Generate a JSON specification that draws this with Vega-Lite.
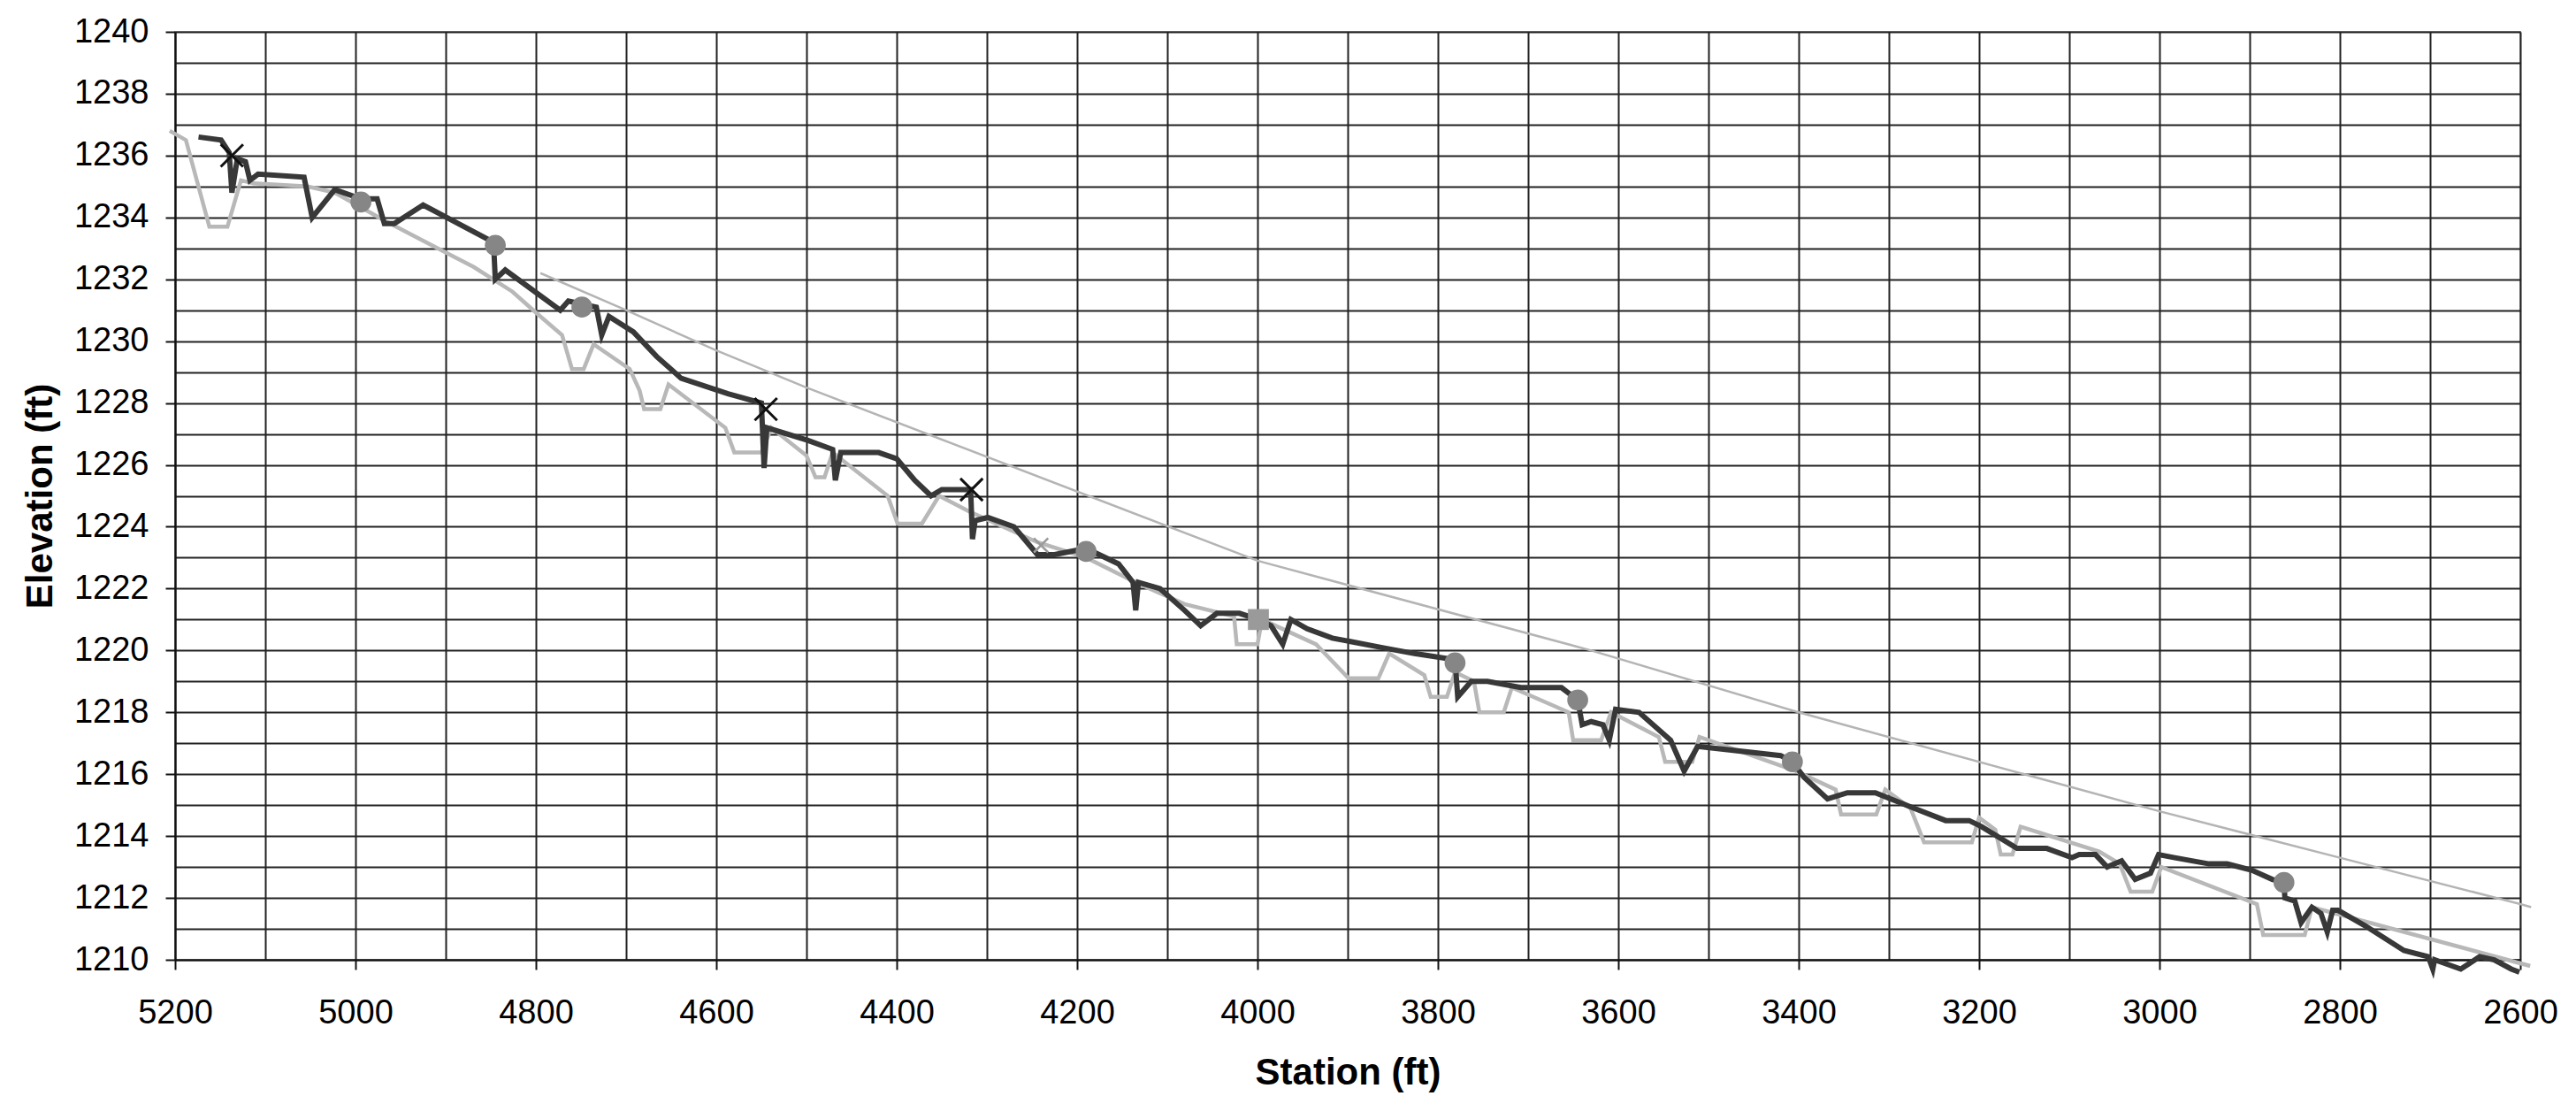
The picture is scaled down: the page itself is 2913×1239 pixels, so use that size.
{
  "$schema": "https://vega.github.io/schema/vega-lite/v6.json",
  "width": 2652,
  "height": 1049,
  "autosize": {"type": "none"},
  "padding": {"left": 198, "top": 36, "right": 63, "bottom": 154},
  "background": "white",
  "config": {
    "view": {"stroke": "#a0a0a0", "strokeWidth": 2},
    "font": "Liberation Sans"
  },
  "datasets": {
    "dark": [
      {"station": 5174, "elev": 1236.6}, {"station": 5149, "elev": 1236.5}, {"station": 5140, "elev": 1236.1},
      {"station": 5137, "elev": 1234.8}, {"station": 5131, "elev": 1235.9}, {"station": 5122, "elev": 1235.8},
      {"station": 5117, "elev": 1235.2}, {"station": 5108, "elev": 1235.4}, {"station": 5057, "elev": 1235.3},
      {"station": 5048, "elev": 1234.0}, {"station": 5023, "elev": 1234.9}, {"station": 4994, "elev": 1234.6},
      {"station": 4976, "elev": 1234.6}, {"station": 4968, "elev": 1233.8}, {"station": 4957, "elev": 1233.8},
      {"station": 4925, "elev": 1234.4}, {"station": 4847, "elev": 1233.2}, {"station": 4845, "elev": 1232.0},
      {"station": 4834, "elev": 1232.3}, {"station": 4773, "elev": 1231.0}, {"station": 4764, "elev": 1231.3},
      {"station": 4749, "elev": 1231.2}, {"station": 4733, "elev": 1231.1}, {"station": 4727, "elev": 1230.2},
      {"station": 4719, "elev": 1230.8}, {"station": 4692, "elev": 1230.3}, {"station": 4666, "elev": 1229.5},
      {"station": 4639, "elev": 1228.8}, {"station": 4587, "elev": 1228.3}, {"station": 4550, "elev": 1228.0},
      {"station": 4547, "elev": 1225.9}, {"station": 4544, "elev": 1227.2}, {"station": 4499, "elev": 1226.8},
      {"station": 4471, "elev": 1226.5}, {"station": 4468, "elev": 1225.5}, {"station": 4462, "elev": 1226.4},
      {"station": 4420, "elev": 1226.4}, {"station": 4400, "elev": 1226.2}, {"station": 4380, "elev": 1225.5},
      {"station": 4362, "elev": 1225.0}, {"station": 4350, "elev": 1225.2}, {"station": 4318, "elev": 1225.2},
      {"station": 4316, "elev": 1223.6}, {"station": 4313, "elev": 1224.2}, {"station": 4299, "elev": 1224.3},
      {"station": 4270, "elev": 1224.0}, {"station": 4244, "elev": 1223.1}, {"station": 4225, "elev": 1223.1},
      {"station": 4190, "elev": 1223.3}, {"station": 4154, "elev": 1222.8}, {"station": 4138, "elev": 1222.2},
      {"station": 4135, "elev": 1221.3}, {"station": 4132, "elev": 1222.2}, {"station": 4108, "elev": 1222.0},
      {"station": 4081, "elev": 1221.3}, {"station": 4063, "elev": 1220.8}, {"station": 4045, "elev": 1221.2},
      {"station": 4020, "elev": 1221.2}, {"station": 3999, "elev": 1221.0}, {"station": 3985, "elev": 1220.8},
      {"station": 3972, "elev": 1220.2}, {"station": 3963, "elev": 1221.0}, {"station": 3945, "elev": 1220.7},
      {"station": 3917, "elev": 1220.4}, {"station": 3863, "elev": 1220.1}, {"station": 3826, "elev": 1219.9},
      {"station": 3781, "elev": 1219.7}, {"station": 3778, "elev": 1218.5}, {"station": 3763, "elev": 1219.0},
      {"station": 3745, "elev": 1219.0}, {"station": 3708, "elev": 1218.8}, {"station": 3663, "elev": 1218.8},
      {"station": 3645, "elev": 1218.4}, {"station": 3640, "elev": 1217.6}, {"station": 3630, "elev": 1217.7},
      {"station": 3617, "elev": 1217.6}, {"station": 3610, "elev": 1217.1}, {"station": 3603, "elev": 1218.1},
      {"station": 3577, "elev": 1218.0}, {"station": 3542, "elev": 1217.1}, {"station": 3527, "elev": 1216.1},
      {"station": 3512, "elev": 1216.9}, {"station": 3420, "elev": 1216.6}, {"station": 3407, "elev": 1216.4},
      {"station": 3394, "elev": 1215.9}, {"station": 3368, "elev": 1215.2}, {"station": 3346, "elev": 1215.4},
      {"station": 3315, "elev": 1215.4}, {"station": 3272, "elev": 1214.9}, {"station": 3237, "elev": 1214.5},
      {"station": 3211, "elev": 1214.5}, {"station": 3197, "elev": 1214.3}, {"station": 3158, "elev": 1213.6},
      {"station": 3125, "elev": 1213.6}, {"station": 3097, "elev": 1213.3}, {"station": 3089, "elev": 1213.4},
      {"station": 3071, "elev": 1213.4}, {"station": 3058, "elev": 1213.0}, {"station": 3042, "elev": 1213.2},
      {"station": 3027, "elev": 1212.6}, {"station": 3010, "elev": 1212.8}, {"station": 3001, "elev": 1213.4},
      {"station": 2983, "elev": 1213.3}, {"station": 2945, "elev": 1213.1}, {"station": 2925, "elev": 1213.1},
      {"station": 2898, "elev": 1212.9}, {"station": 2875, "elev": 1212.6}, {"station": 2862, "elev": 1212.5},
      {"station": 2861, "elev": 1212.0}, {"station": 2850, "elev": 1211.9}, {"station": 2843, "elev": 1211.2},
      {"station": 2831, "elev": 1211.7}, {"station": 2821, "elev": 1211.5}, {"station": 2814, "elev": 1210.9},
      {"station": 2808, "elev": 1211.6}, {"station": 2802, "elev": 1211.6}, {"station": 2772, "elev": 1211.1},
      {"station": 2729, "elev": 1210.3}, {"station": 2702, "elev": 1210.1}, {"station": 2697, "elev": 1209.7},
      {"station": 2695, "elev": 1210.0}, {"station": 2666, "elev": 1209.7}, {"station": 2645, "elev": 1210.1},
      {"station": 2629, "elev": 1210.0}, {"station": 2610, "elev": 1209.7}, {"station": 2601, "elev": 1209.6}
    ],
    "grey": [
      {"station": 5206, "elev": 1236.8}, {"station": 5188, "elev": 1236.5}, {"station": 5162, "elev": 1233.7},
      {"station": 5142, "elev": 1233.7}, {"station": 5127, "elev": 1235.2}, {"station": 5113, "elev": 1235.1},
      {"station": 5053, "elev": 1235.0}, {"station": 5023, "elev": 1234.8}, {"station": 4968, "elev": 1233.9},
      {"station": 4922, "elev": 1233.2}, {"station": 4869, "elev": 1232.4}, {"station": 4826, "elev": 1231.6},
      {"station": 4799, "elev": 1230.9}, {"station": 4771, "elev": 1230.2}, {"station": 4760, "elev": 1229.1},
      {"station": 4747, "elev": 1229.1}, {"station": 4736, "elev": 1229.9}, {"station": 4696, "elev": 1229.1},
      {"station": 4685, "elev": 1228.4}, {"station": 4680, "elev": 1227.8}, {"station": 4662, "elev": 1227.8},
      {"station": 4653, "elev": 1228.6}, {"station": 4590, "elev": 1227.2}, {"station": 4580, "elev": 1226.4},
      {"station": 4550, "elev": 1226.4}, {"station": 4539, "elev": 1227.2}, {"station": 4500, "elev": 1226.3},
      {"station": 4490, "elev": 1225.6}, {"station": 4480, "elev": 1225.6}, {"station": 4471, "elev": 1226.4},
      {"station": 4410, "elev": 1225.0}, {"station": 4399, "elev": 1224.1}, {"station": 4372, "elev": 1224.1},
      {"station": 4353, "elev": 1225.0}, {"station": 4320, "elev": 1224.5}, {"station": 4244, "elev": 1223.5},
      {"station": 4190, "elev": 1223.0}, {"station": 4135, "elev": 1222.2}, {"station": 4081, "elev": 1221.5},
      {"station": 4026, "elev": 1221.1}, {"station": 4023, "elev": 1220.2}, {"station": 4000, "elev": 1220.2},
      {"station": 3995, "elev": 1221.0}, {"station": 3935, "elev": 1220.2}, {"station": 3899, "elev": 1219.1},
      {"station": 3866, "elev": 1219.1}, {"station": 3854, "elev": 1219.9}, {"station": 3815, "elev": 1219.2},
      {"station": 3808, "elev": 1218.5}, {"station": 3790, "elev": 1218.5}, {"station": 3781, "elev": 1219.3},
      {"station": 3760, "elev": 1219.0}, {"station": 3754, "elev": 1218.0}, {"station": 3727, "elev": 1218.0},
      {"station": 3718, "elev": 1218.8}, {"station": 3655, "elev": 1218.0}, {"station": 3650, "elev": 1217.1},
      {"station": 3619, "elev": 1217.1}, {"station": 3608, "elev": 1218.0}, {"station": 3555, "elev": 1217.2},
      {"station": 3548, "elev": 1216.4}, {"station": 3518, "elev": 1216.4}, {"station": 3510, "elev": 1217.2},
      {"station": 3403, "elev": 1216.1}, {"station": 3359, "elev": 1215.5}, {"station": 3353, "elev": 1214.7},
      {"station": 3314, "elev": 1214.7}, {"station": 3304, "elev": 1215.5}, {"station": 3276, "elev": 1214.9},
      {"station": 3261, "elev": 1213.8}, {"station": 3208, "elev": 1213.8}, {"station": 3200, "elev": 1214.6},
      {"station": 3182, "elev": 1214.2}, {"station": 3176, "elev": 1213.4}, {"station": 3163, "elev": 1213.4},
      {"station": 3154, "elev": 1214.3}, {"station": 3067, "elev": 1213.5}, {"station": 3044, "elev": 1213.1},
      {"station": 3032, "elev": 1212.2}, {"station": 3008, "elev": 1212.2}, {"station": 2998, "elev": 1213.0},
      {"station": 2892, "elev": 1211.8}, {"station": 2885, "elev": 1210.8}, {"station": 2839, "elev": 1210.8},
      {"station": 2831, "elev": 1211.7}, {"station": 2589, "elev": 1209.8}
    ],
    "slope": [
      {"station": 4795, "elev": 1232.2}, {"station": 4700, "elev": 1231.0}, {"station": 4600, "elev": 1229.7},
      {"station": 4500, "elev": 1228.5}, {"station": 4000, "elev": 1222.9}, {"station": 3630, "elev": 1220.0},
      {"station": 3400, "elev": 1218.0}, {"station": 3000, "elev": 1214.8}, {"station": 2800, "elev": 1213.3},
      {"station": 2600, "elev": 1211.8}, {"station": 2588, "elev": 1211.7}
    ],
    "markers": [
      {"station": 5137, "elev": 1236.0, "kind": "x"},
      {"station": 4545, "elev": 1227.8, "kind": "x"},
      {"station": 4317, "elev": 1225.2, "kind": "x"},
      {"station": 4240, "elev": 1223.4, "kind": "xs"},
      {"station": 4994, "elev": 1234.5, "kind": "circle"},
      {"station": 4845, "elev": 1233.1, "kind": "circle"},
      {"station": 4749, "elev": 1231.1, "kind": "circle"},
      {"station": 4190, "elev": 1223.2, "kind": "circle"},
      {"station": 3781, "elev": 1219.6, "kind": "circle"},
      {"station": 3645, "elev": 1218.4, "kind": "circle"},
      {"station": 3407, "elev": 1216.4, "kind": "circle"},
      {"station": 2862, "elev": 1212.5, "kind": "circle"},
      {"station": 3999, "elev": 1221.0, "kind": "square"}
    ]
  },
  "encoding": {
    "x": {
      "field": "station",
      "type": "quantitative",
      "scale": {"domain": [2600, 5200], "reverse": true, "nice": false, "zero": false},
      "axis": {
        "title": "Station (ft)",
        "values": [2600, 2700, 2800, 2900, 3000, 3100, 3200, 3300, 3400, 3500, 3600, 3700, 3800, 3900, 4000, 4100, 4200, 4300, 4400, 4500, 4600, 4700, 4800, 4900, 5000, 5100, 5200],
        "labelExpr": "datum.value % 200 === 0 ? datum.label : ''",
        "format": "d",
        "grid": true,
        "gridColor": "#222222",
        "gridWidth": 2,
        "domainColor": "#111",
        "domainWidth": 2,
        "tickColor": "#111",
        "tickWidth": 2,
        "tickSize": 11,
        "tickOpacity": {"expr": "datum.value % 200 === 0 ? 1 : 0"},
        "labelFont": "Liberation Sans",
        "labelFontSize": 38,
        "labelColor": "#000",
        "labelPadding": 30,
        "labelFlush": false,
        "titleFont": "Liberation Sans",
        "titleFontSize": 42,
        "titleFontWeight": "bold",
        "titleColor": "#000",
        "titlePadding": 28
      }
    },
    "y": {
      "field": "elev",
      "type": "quantitative",
      "scale": {"domain": [1210, 1240], "nice": false, "zero": false},
      "axis": {
        "title": "Elevation (ft)",
        "values": [1210, 1211, 1212, 1213, 1214, 1215, 1216, 1217, 1218, 1219, 1220, 1221, 1222, 1223, 1224, 1225, 1226, 1227, 1228, 1229, 1230, 1231, 1232, 1233, 1234, 1235, 1236, 1237, 1238, 1239, 1240],
        "labelExpr": "datum.value % 2 === 0 ? datum.label : ''",
        "format": "d",
        "grid": true,
        "gridColor": "#222222",
        "gridWidth": 2,
        "domainColor": "#111",
        "domainWidth": 2,
        "tickColor": "#111",
        "tickWidth": 2,
        "tickSize": 11,
        "tickOpacity": {"expr": "datum.value % 2 === 0 ? 1 : 0"},
        "labelFont": "Liberation Sans",
        "labelFontSize": 38,
        "labelColor": "#000",
        "labelPadding": 19,
        "labelFlush": false,
        "titleFont": "Liberation Sans",
        "titleFontSize": 42,
        "titleFontWeight": "bold",
        "titleColor": "#000",
        "titlePadding": 16
      }
    }
  },
  "layer": [
    {"data": {"name": "slope"}, "mark": {"type": "line", "color": "#b4b4b4", "strokeWidth": 2.5}},
    {"data": {"name": "grey"}, "mark": {"type": "line", "color": "#b8b8b8", "strokeWidth": 4.5}},
    {"data": {"name": "dark"}, "mark": {"type": "line", "color": "#383838", "strokeWidth": 6}},
    {"data": {"name": "markers"}, "transform": [{"filter": "datum.kind === 'circle'"}], "mark": {"type": "circle", "size": 560, "color": "#868686", "opacity": 1}},
    {"data": {"name": "markers"}, "transform": [{"filter": "datum.kind === 'square'"}], "mark": {"type": "square", "size": 560, "color": "#9a9a9a", "opacity": 1}},
    {"data": {"name": "markers"}, "transform": [{"filter": "datum.kind === 'x'"}], "mark": {"type": "point", "shape": "M-1,-1L1,1M-1,1L1,-1", "size": 640, "filled": false, "stroke": "#111", "strokeWidth": 3, "opacity": 1}},
    {"data": {"name": "markers"}, "transform": [{"filter": "datum.kind === 'xs'"}], "mark": {"type": "point", "shape": "M-1,-1L1,1M-1,1L1,-1", "size": 260, "filled": false, "stroke": "#9a9a9a", "strokeWidth": 2.5, "opacity": 1}}
  ]
}
